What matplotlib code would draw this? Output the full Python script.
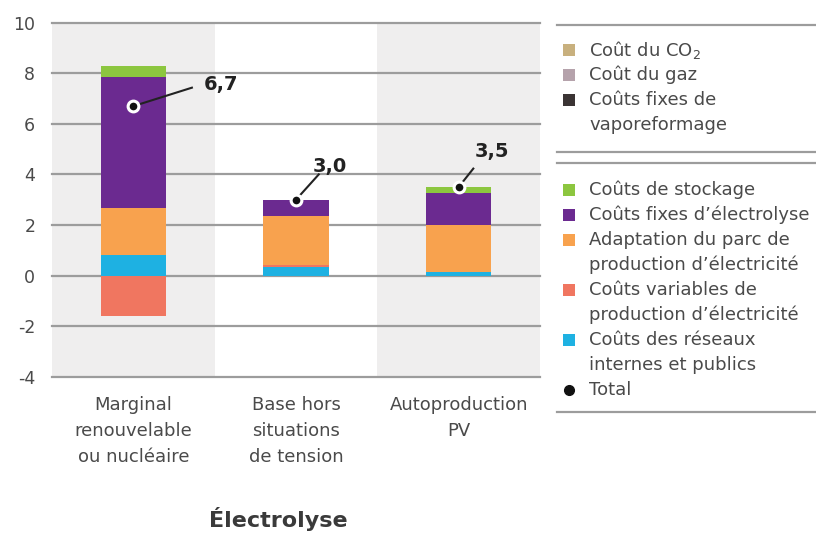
"""Electrolysis hydrogen cost breakdown, stacked bars with totals."""

import matplotlib

matplotlib.use("Agg")
import matplotlib.pyplot as plt
import numpy as np
from matplotlib.lines import Line2D
from matplotlib.patches import Rectangle

categories = ["Marginal\nrenouvelable\nou nucléaire", "Base hors\nsituations\nde tension", "Autoproduction\nPV"]
reseaux = [0.83, 0.34, 0.13]
variables = [-1.6, 0.08, 0.0]
adaptation = [1.84, 1.95, 1.85]
electrolyse = [5.18, 0.63, 1.29]
stockage = [0.45, 0.0, 0.23]
totals = [6.7, 3.0, 3.5]

series = [
    ("Coûts des réseaux\ninternes et publics", reseaux, "#1eb1e2"),
    ("Coûts variables de\nproduction d’électricité", variables, "#f07660"),
    ("Adaptation du parc de\nproduction d’électricité", adaptation, "#f8a24e"),
    ("Coûts fixes d’électrolyse", electrolyse, "#6b2a90"),
    ("Coûts de stockage", stockage, "#8cc63f"),
]
smr_items = [
    ("Coût du CO$_2$", "#c8b07e"),
    ("Coût du gaz", "#b5a2ab"),
    ("Coûts fixes de\nvaporeformage", "#3b3434"),
]

W, H = 816, 533
fig = plt.figure(figsize=(W / 100, H / 100), dpi=100)
ax = fig.add_axes([52 / W, 1 - 376.7 / H, 488 / W, 354 / H])

x = np.arange(len(categories))
ax.set_xlim(-0.5, len(categories) - 0.5)
ax.set_ylim(-4, 10)

for i in x:
    if i % 2 == 0:
        ax.axvspan(i - 0.5, i + 0.5, color="#efeeee", zorder=0, lw=0)

yticks = np.arange(-4, 11, 2)
for yt in yticks:
    ax.axhline(yt, color="#9c9c9c", lw=1.6, zorder=1, clip_on=False)

pos_base = np.zeros(len(x))
neg_base = np.zeros(len(x))
for label, vals, color in series:
    vals = np.array(vals)
    bottoms = np.where(vals >= 0, pos_base, neg_base)
    ax.bar(x, vals, width=0.4, bottom=bottoms, color=color, zorder=2, lw=0)
    pos_base += np.where(vals >= 0, vals, 0)
    neg_base += np.where(vals < 0, vals, 0)

# total markers with leader lines
lead = [(0.36, 0.73), (0.14, 1.0), (0.09, 0.73)]
txt = [(0.43, 0.65), (0.10, 1.11), (0.10, 1.20)]
for i, t in enumerate(totals):
    ax.plot([i, i + lead[i][0]], [t, t + lead[i][1]], color="#222222", lw=1.5, zorder=3)
    ax.scatter([i], [t], s=60, color="#111111", edgecolor="white", linewidth=2.2, zorder=4)
    ax.text(i + txt[i][0], t + txt[i][1], f"{t:.1f}".replace(".", ","), fontsize=14,
            fontweight="bold", color="#222222", ha="left", va="baseline", zorder=5)

ax.set_yticks(yticks)
ax.set_yticklabels([str(v) for v in yticks], fontsize=12.5, color="#4a4a4a")
ax.set_xticks(x)
ax.set_xticklabels(categories, fontsize=13, color="#4a4a4a", linespacing=1.55)
ax.tick_params(axis="both", length=0)
ax.tick_params(axis="y", pad=12)
ax.tick_params(axis="x", pad=14)
for s in ax.spines.values():
    s.set_visible(False)

fig.text(278 / W, 1 - 527 / H, "Électrolyse", fontsize=16, fontweight="bold",
         color="#3a3a3a", ha="center", va="baseline")


# legend panel on the right
def fx(px):
    return px / W


def fy(py):
    return 1 - py / H


for ly in [25, 152, 163, 412]:
    fig.add_artist(Line2D([fx(557), fx(816)], [fy(ly), fy(ly)], color="#9c9c9c", lw=1.6))

legend_rows = [(smr_items[0], 50), (smr_items[1], 75), (smr_items[2], 100)]
legend_rows += [((lab, col), y) for (lab, _, col), y in zip(series[::-1], [190, 215, 240, 290, 340])]
for (lab, col), y in legend_rows:
    fig.add_artist(Rectangle((fx(563), fy(y + 6)), 12 / W, 12 / H, color=col, lw=0))
    for k, line in enumerate(lab.split("\n")):
        fig.text(fx(589), fy(y + 25 * k), line, fontsize=13, color="#4a4a4a",
                 ha="left", va="center")

fig.add_artist(Line2D([fx(569)], [fy(390)], marker="o", color="#111111", markersize=7, lw=0))
fig.text(fx(589), fy(390), "Total", fontsize=13, color="#4a4a4a", ha="left", va="center")

fig.savefig("out.png", dpi=100)
